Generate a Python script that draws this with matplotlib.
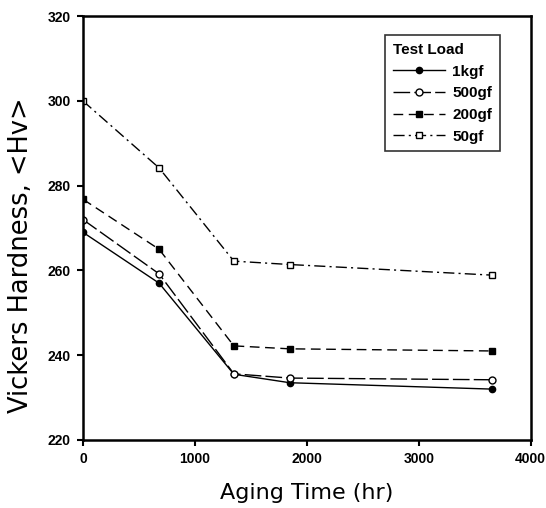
import matplotlib
matplotlib.use("Agg")
import matplotlib.pyplot as plt

plt.rcParams['font.family'] = ['Liberation Sans', 'DejaVu Sans']

hours = [0, 680, 1348, 1848, 3650]
hv_1kgf = [269, 257, 235.5, 233.5, 232]
hv_500gf = [272, 259.2, 235.6, 234.6, 234.2]
hv_200gf = [276.8, 265, 242.2, 241.5, 241]
hv_50gf = [300, 284.2, 262.2, 261.4, 258.9]
labels = ['1kgf', '500gf', '200gf', '50gf']
xticks = [0, 1000, 2000, 3000, 4000]
yticks = [220, 240, 260, 280, 300, 320]

fig = plt.figure(figsize=(5.46, 5.08), dpi=100)
ax = fig.add_axes([0.152, 0.134, 0.82, 0.834])

ax.plot(hours, hv_1kgf, '-', color='black', lw=1.0, marker='o', ms=4.5,
        mfc='black', mec='black', label=labels[0])
ax.plot(hours, hv_500gf, '--', color='black', lw=1.0, marker='o', ms=5,
        mfc='white', mec='black', label=labels[1], dashes=(12, 3))
ax.plot(hours, hv_200gf, '--', color='black', lw=1.0, marker='s', ms=4.5,
        mfc='black', mec='black', label=labels[2], dashes=(7, 4))
ax.plot(hours, hv_50gf, '-.', color='black', lw=1.0, marker='s', ms=5,
        mfc='white', mec='black', label=labels[3], dashes=(8, 3, 1.5, 3))

ax.set_xlim(0, 4000)
ax.set_ylim(220, 320)
ax.set_xticks(xticks)
ax.set_yticks(yticks)
ax.tick_params(direction='out', length=4, width=1.5, labelsize=10, pad=5)
for t in ax.get_xticklabels() + ax.get_yticklabels():
    t.set_fontweight('bold')
for s in ax.spines.values():
    s.set_linewidth(1.8)

ax.set_xlabel('Aging Time (hr)', fontsize=16, labelpad=12, family='DejaVu Sans')
ax.set_ylabel('Vickers Hardness, <Hv>', fontsize=18.5, family='DejaVu Sans')
ax.yaxis.set_label_coords(-0.11, 0.436)

leg = ax.legend(title='Test Load', loc='upper right', bbox_to_anchor=(0.931, 0.955),
                borderaxespad=0.0,
                frameon=True, fancybox=False, edgecolor='black',
                prop={'weight': 'bold', 'size': 11}, handlelength=3.4,
                handletextpad=0.5, borderpad=0.5, labelspacing=0.5)
leg.get_title().set_fontweight('bold')
leg.get_title().set_fontsize(11)
leg._legend_box.align = 'left'
leg.get_frame().set_linewidth(1.2)

fig.savefig('out.png', dpi=100)
